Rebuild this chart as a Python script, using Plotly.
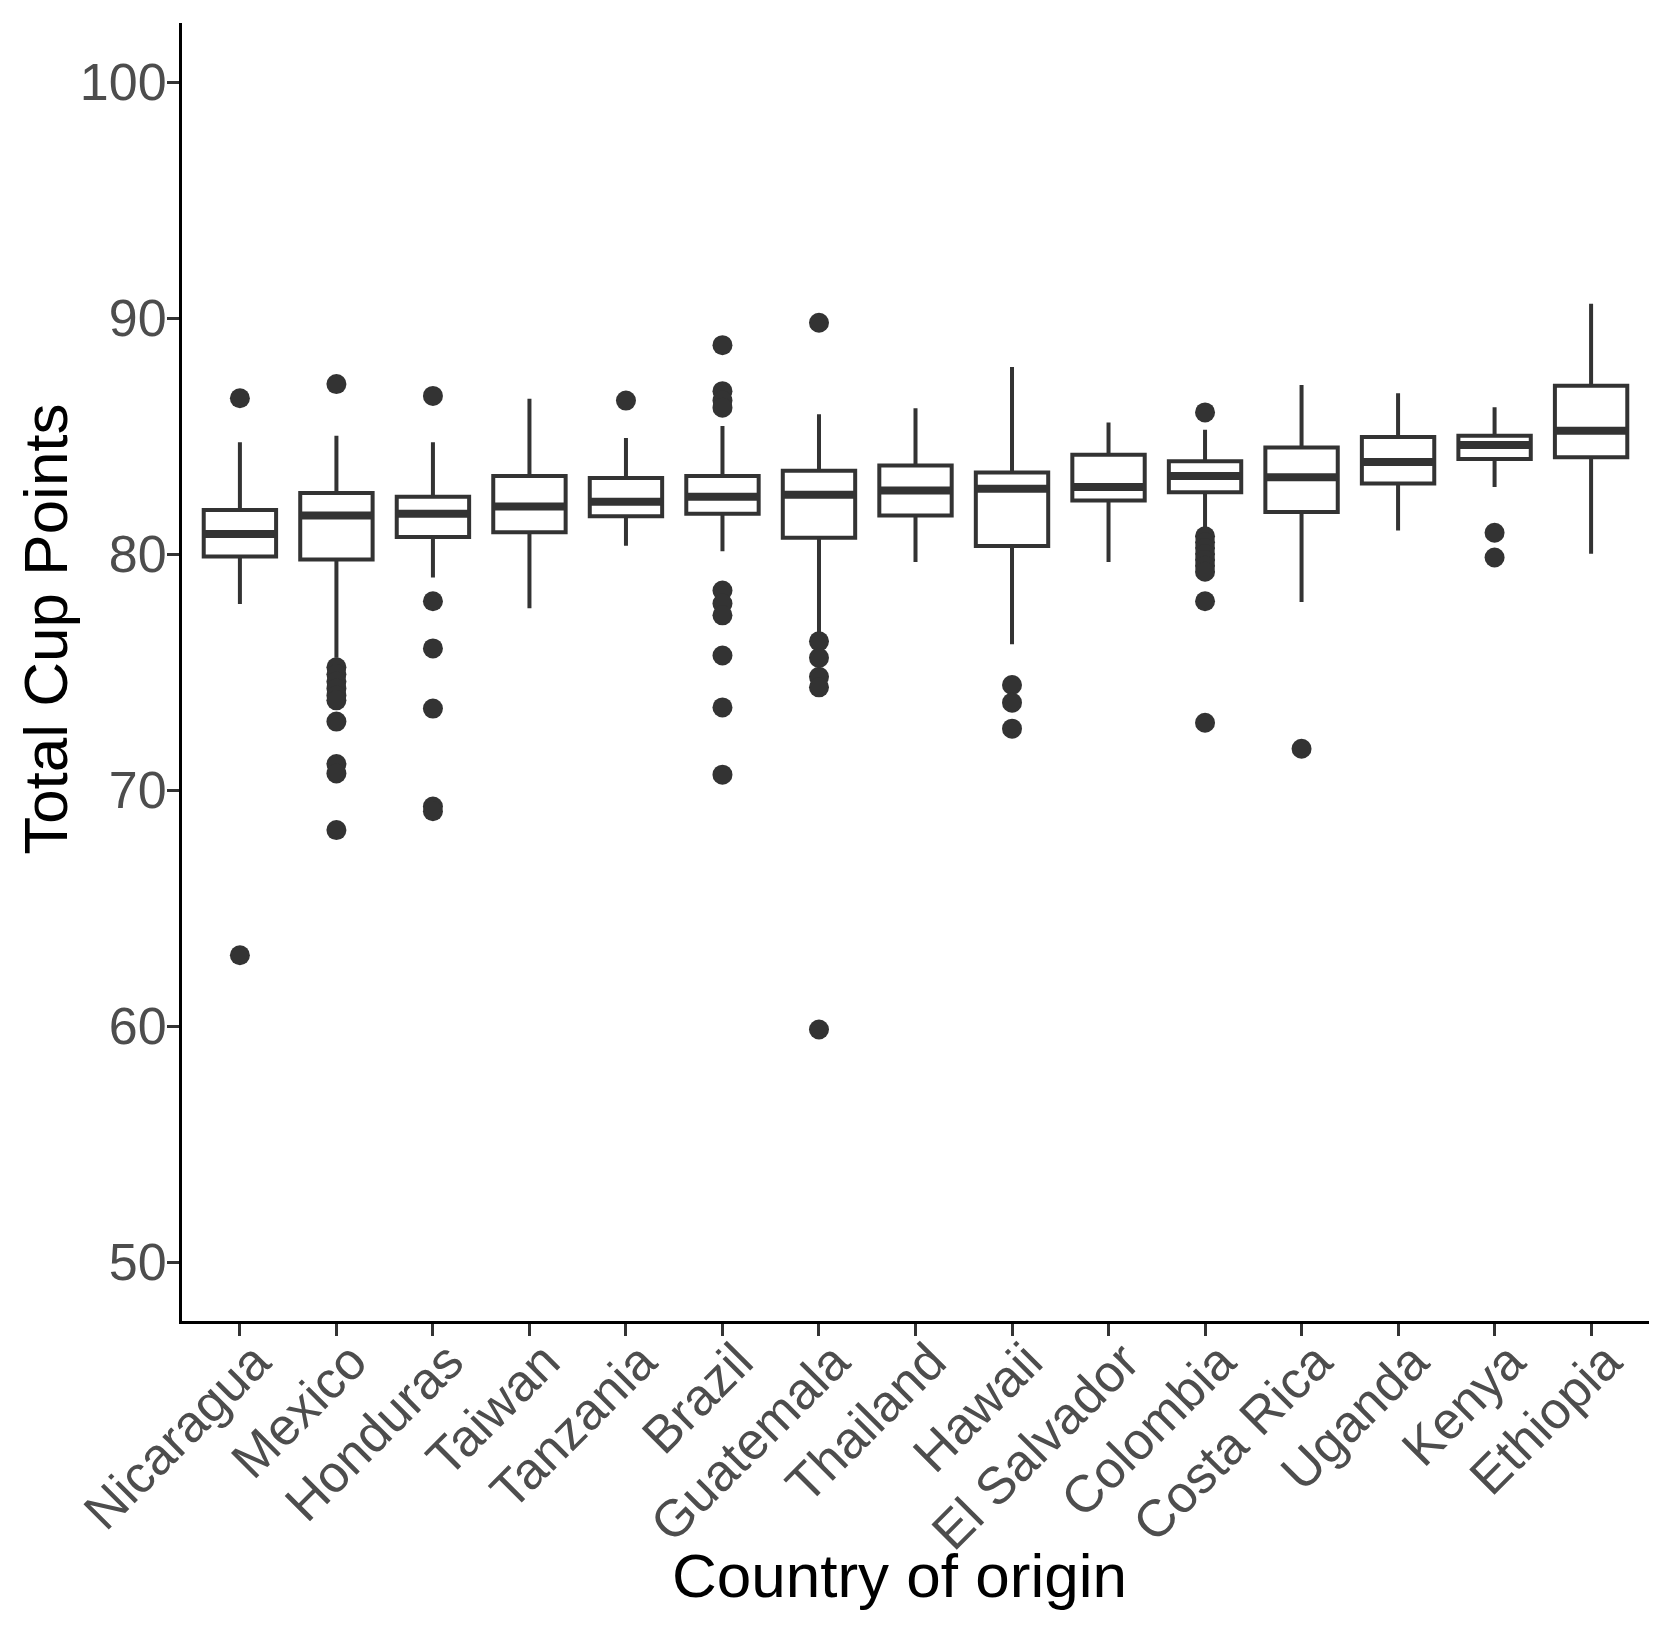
import plotly.graph_objects as go

countries = ["Nicaragua", "Mexico", "Honduras", "Taiwan", "Tanzania", "Brazil",
             "Guatemala", "Thailand", "Hawaii", "El Salvador", "Colombia",
             "Costa Rica", "Uganda", "Kenya", "Ethiopia"]
lower_whisker = [77.88, 75.6, 79.0, 77.7, 80.35, 80.12, 76.45, 79.66, 76.18, 79.66, 81.03, 77.97, 81.0, 82.84, 80.01]
q1 = [79.89, 79.77, 80.72, 80.92, 81.6, 81.71, 80.69, 81.63, 80.34, 82.27, 82.62, 81.78, 82.99, 84.03, 84.1]
median = [80.85, 81.63, 81.71, 82.01, 82.21, 82.43, 82.51, 82.69, 82.77, 82.84, 83.3, 83.25, 83.9, 84.62, 85.22]
q3 = [81.86, 82.59, 82.43, 83.3, 83.22, 83.3, 83.53, 83.75, 83.45, 84.21, 83.93, 84.51, 84.96, 85.01, 87.13]
upper_whisker = [84.74, 85.01, 84.74, 86.58, 84.92, 85.42, 85.92, 86.18, 87.92, 85.57, 85.27, 87.16, 86.81, 86.22, 90.6]

outlier_country = (["Nicaragua"] * 2 + ["Mexico"] * 11 + ["Honduras"] * 6 + ["Tanzania"]
                   + ["Brazil"] * 10 + ["Guatemala"] * 6 + ["Hawaii"] * 3
                   + ["Colombia"] * 10 + ["Costa Rica"] + ["Kenya"] * 2)
outlier_value = ([86.6, 63.0]
                 + [87.2, 75.2, 74.9, 74.6, 74.3, 74.0, 73.8, 72.9, 71.1, 70.7, 68.3]
                 + [86.7, 78.0, 76.0, 73.45, 69.3, 69.1]
                 + [86.5]
                 + [88.85, 86.9, 86.5, 86.2, 78.45, 77.9, 77.4, 75.7, 73.5, 70.65]
                 + [89.8, 76.3, 75.6, 74.8, 74.35, 59.85]
                 + [74.45, 73.7, 72.6]
                 + [86.0, 80.75, 80.5, 80.25, 80.0, 79.75, 79.5, 79.25, 78.0, 72.85]
                 + [71.75]
                 + [80.9, 79.85])

y_ticks = [50, 60, 70, 80, 90, 100]
x_title = "Country of origin"
y_title = "Total Cup Points"

idx = list(range(len(countries)))
BOX_W = 0.75
DARK = "#333333"
FONT = "Liberation Sans, Arial, Helvetica, sans-serif"

fig = go.Figure()
fig.add_trace(go.Box(
    x=idx, q1=q1, median=median, q3=q3,
    lowerfence=lower_whisker, upperfence=upper_whisker,
    width=BOX_W, whiskerwidth=0, fillcolor="white",
    line=dict(color=DARK, width=4), boxpoints=False, showlegend=False,
))

# thicker median lines
mx, my = [], []
for i, m in zip(idx, median):
    mx += [i - BOX_W / 2, i + BOX_W / 2, None]
    my += [m, m, None]
fig.add_trace(go.Scatter(x=mx, y=my, mode="lines",
                         line=dict(color=DARK, width=8), showlegend=False))

pos = {c: i for i, c in enumerate(countries)}
fig.add_trace(go.Scatter(
    x=[pos[c] for c in outlier_country], y=outlier_value, mode="markers",
    marker=dict(color=DARK, size=20, line=dict(width=0)), showlegend=False,
))

fig.update_layout(
    width=1653, height=1618,
    margin=dict(l=174, r=12, t=15, b=305),
    paper_bgcolor="white", plot_bgcolor="white",
    font=dict(family=FONT, color="black"),
    xaxis=dict(
        range=[-0.6, 14.6], tickmode="array", tickvals=idx, ticktext=countries,
        tickangle=-45, tickfont=dict(size=52, color="#4d4d4d"),
        ticks="outside", ticklen=12, tickwidth=2.5, tickcolor=DARK,
        ticklabelstandoff=-26, ticklabelshift=15,
        showline=True, linecolor="black", linewidth=3, showgrid=False, zeroline=False,
    ),
    yaxis=dict(
        range=[47.5, 102.5], tickmode="array", tickvals=y_ticks,
        tickfont=dict(size=52, color="#4d4d4d"),
        ticks="outside", ticklen=12, tickwidth=2.5, tickcolor=DARK,
        ticklabelstandoff=-10,
        showline=True, linecolor="black", linewidth=3, showgrid=False, zeroline=False,
    ),
    annotations=[
        dict(text=x_title, xref="paper", yref="paper", x=0.4888, y=-0.1957,
             xanchor="center", yanchor="middle", showarrow=False,
             font=dict(size=62, color="black", family=FONT)),
        dict(text=y_title, xref="paper", yref="paper", x=-0.0935, y=0.5331,
             xanchor="center", yanchor="middle", showarrow=False, textangle=-90,
             font=dict(size=62, color="black", family=FONT)),
    ],
)

fig.write_html("out.html")
